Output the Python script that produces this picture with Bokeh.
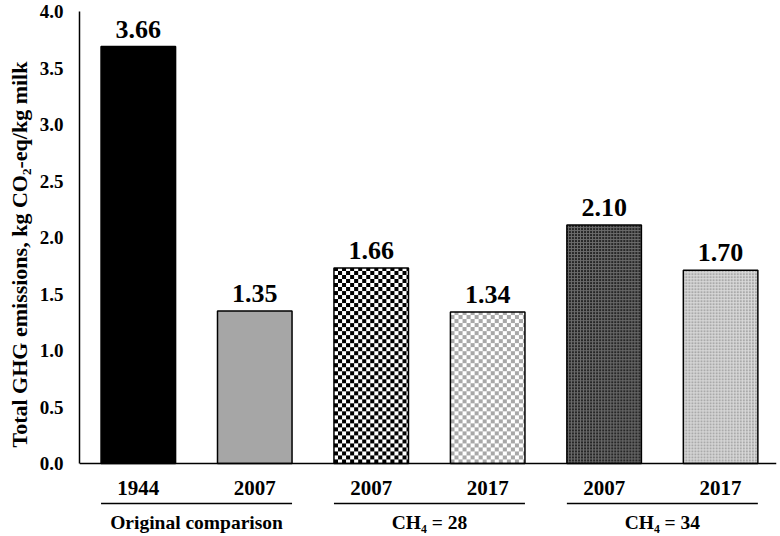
import numpy as np
from bokeh.plotting import figure
from bokeh.models import Range1d, FixedTicker, Span, NumeralTickFormatter, Title
from bokeh.core.properties import value
from bokeh.embed import file_html
from bokeh.resources import INLINE

# ---- data ----
year_labels = ["1944", "2007", "2007", "2017", "2007", "2017"]
bar_heights = [3.69, 1.35, 1.73, 1.34, 2.11, 1.71]
value_labels = ["3.66", "1.35", "1.66", "1.34", "2.10", "1.70"]
group_labels = ["Original comparison", "CH\u2084 = 28", "CH\u2084 = 34"]
group_members = [(0, 1), (2, 3), (4, 5)]
y_ticks = [0.0, 0.5, 1.0, 1.5, 2.0, 2.5, 3.0, 3.5, 4.0]
y_title = "Total GHG emissions, kg CO\u2082-eq/kg milk"

# ---- layout ----
W, H = 778, 534
BL, BR, BT, BB = 77, 2, 11, 0
X0, X1 = -0.505, 5.48
Y1 = 4.0
PPU_Y = 113.0
frame_w = W - BL - BR
frame_h = H - BT - BB
Y0 = Y1 - frame_h / PPU_Y
PPU_X = frame_w / (X1 - X0)
BAR_W = 0.64
FONT = value("Liberation Serif")

xs = list(range(len(bar_heights)))

p = figure(width=W, height=H, x_range=Range1d(X0, X1), y_range=Range1d(Y0, Y1),
           output_backend="svg", toolbar_location=None, x_axis_location=None,
           min_border_left=BL, min_border_right=BR, min_border_top=BT, min_border_bottom=BB)
p.outline_line_color = None
p.grid.visible = False
p.background_fill_color = "white"


def rgba(c):
    return tuple(int(c[i:i + 2], 16) for i in (1, 3, 5))


def texture(kind, w, h):
    img = np.empty((h, w), dtype=np.uint32)
    v = img.view(dtype=np.uint8).reshape((h, w, 4))
    ii, jj = np.mgrid[0:h, 0:w]
    if kind == "checker_black":
        a, b = "#000000", "#ffffff"
        mask = ((ii // 4 + jj // 4) % 2) == 0
    elif kind == "checker_gray":
        a, b = "#a8a8a8", "#ffffff"
        mask = ((ii // 4 + jj // 4) % 2) == 0
    elif kind == "fine_dark":
        a, b = "#262626", "#6c6c6c"
        mask = ~(((ii % 3) == 1) | ((jj % 3) == 1))
    else:
        a, b = "#aaaaaa", "#dcdcdc"
        mask = ~(((ii % 3) == 1) | ((jj % 3) == 1))
    ca, cb = rgba(a), rgba(b)
    for k in range(3):
        v[..., k] = np.where(mask, ca[k], cb[k])
    v[..., 3] = 255
    return img


kinds = [None, None, "checker_black", "checker_gray", "fine_dark", "fine_light"]
for i, k in enumerate(kinds):
    if k is None:
        continue
    wpx = int(round(BAR_W * PPU_X))
    hpx = int(round(bar_heights[i] * PPU_Y))
    p.image_rgba(image=[texture(k, wpx, hpx)], x=xs[i] - BAR_W / 2, y=0,
                 dw=BAR_W, dh=bar_heights[i])

fills = ["#000000", "#a6a6a6", "rgba(0,0,0,0)", "rgba(0,0,0,0)", "rgba(0,0,0,0)", "rgba(0,0,0,0)"]
p.vbar(x=xs, top=bar_heights, bottom=0, width=BAR_W, fill_color=fills,
       line_color="black", line_width=1.5)

# x axis line
p.add_layout(Span(location=0, dimension="width", line_color="black", line_width=1.5))

# value labels
p.text(x=xs, y=bar_heights, text=value_labels, text_align="center", text_baseline="bottom",
       y_offset=-9, text_font=FONT, text_font_style="bold", text_font_size="26px",
       text_color="black")

# category labels
p.text(x=xs, y=[0] * len(xs), text=year_labels, text_align="center", text_baseline="middle",
       y_offset=24, text_font=FONT, text_font_style="bold", text_font_size="21px",
       text_color="black")

# group lines and labels
gx0 = [xs[a] - BAR_W / 2 for a, b in group_members]
gx1 = [xs[b] + BAR_W / 2 for a, b in group_members]
gy = [-40 / PPU_Y] * len(group_members)
p.segment(x0=gx0, y0=gy, x1=gx1, y1=gy, line_color="black", line_width=1.5)
gc = [(xs[a] + xs[b]) / 2 for a, b in group_members]
p.text(x=gc, y=[0] * len(gc), text=group_labels, text_align="center", text_baseline="middle",
       y_offset=59, text_font=FONT, text_font_style="bold", text_font_size="19.5px",
       text_color="black")

# y axis
ax = p.yaxis[0]
ax.bounds = (0, 4)
ax.ticker = FixedTicker(ticks=y_ticks)
ax.formatter = NumeralTickFormatter(format="0.0")
ax.major_tick_line_color = None
ax.minor_tick_line_color = None
ax.axis_line_color = "black"
ax.axis_line_width = 1.5
ax.major_label_text_font = "Liberation Serif"
ax.major_label_text_font_style = "bold"
ax.major_label_text_font_size = "19px"
ax.major_label_text_color = "black"
ax.major_label_standoff = 10

# y axis title as a side title, started near the bottom of the 0-4 span
side = Title(text=y_title, align="left", offset=87, standoff=9,
             text_font="Liberation Serif", text_font_style="bold", text_font_size="22px",
             text_color="black")
p.add_layout(side, "left")

open("out.html", "w").write(file_html(p, INLINE))
